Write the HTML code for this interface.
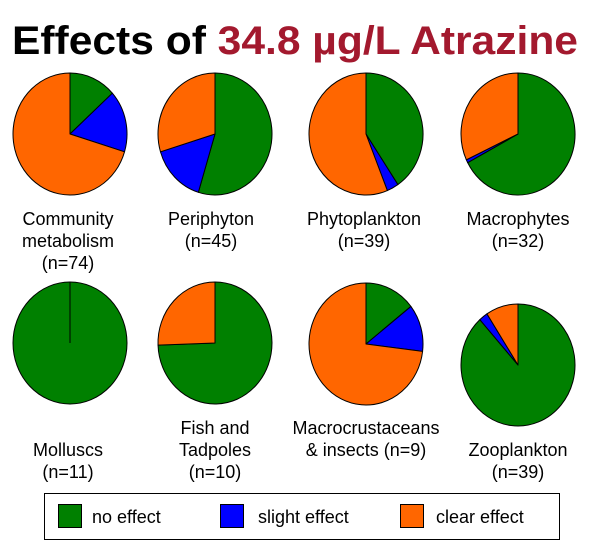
<!DOCTYPE html>
<html><head><meta charset="utf-8"><style>
body{margin:0;background:#fff;width:605px;height:553px;overflow:hidden}
svg{display:block}
text{font-family:"Liberation Sans",Arial,sans-serif;font-size:18px;fill:#000}
</style></head><body>
<svg id="s" width="605" height="553" xmlns="http://www.w3.org/2000/svg">
<text x="12" y="54" style="font-size:40px;font-weight:bold" textLength="566" lengthAdjust="spacingAndGlyphs">Effects of <tspan fill="#a3192e">34.8 µg/L Atrazine</tspan></text>
<g id="pies"></g>
<g text-anchor="middle">
<text x="68" y="225">Community</text><text x="68" y="247">metabolism</text><text x="68" y="269">(n=74)</text>
<text x="211" y="225">Periphyton</text><text x="211" y="247">(n=45)</text>
<text x="364" y="225">Phytoplankton</text><text x="364" y="247">(n=39)</text>
<text x="518" y="225">Macrophytes</text><text x="518" y="247">(n=32)</text>
<text x="68" y="456">Molluscs</text><text x="68" y="478">(n=11)</text>
<text x="215" y="434">Fish and</text><text x="215" y="456">Tadpoles</text><text x="215" y="478">(n=10)</text>
<text x="366" y="434">Macrocrustaceans</text><text x="366" y="456">&amp; insects (n=9)</text>
<text x="518" y="456">Zooplankton</text><text x="518" y="478">(n=39)</text>
</g>
<rect x="44.5" y="493.5" width="515" height="46" fill="#fff" stroke="#000" stroke-width="1"/>
<rect x="58.5" y="504.5" width="23" height="23" fill="#008000" stroke="#000"/>
<text x="92" y="523">no effect</text>
<rect x="220.5" y="504.5" width="23" height="23" fill="#0000ff" stroke="#000"/>
<text x="258" y="523">slight effect</text>
<rect x="400.5" y="504.5" width="23" height="23" fill="#ff6600" stroke="#000"/>
<text x="436" y="523">clear effect</text>
</svg>
<script>
var G="#008000",B="#0000ff",O="#ff6600";
var pies=[[70,134,[[0,48,G],[48,107,B],[107,360,O]]],
[215,134,[[0,197,G],[197,253,B],[253,360,O]]],
[366,134,[[0,146,G],[146,158,B],[158,360,O]]],
[518,134,[[0,242,G],[242,245,B],[245,360,O]]],
[70,343,[[0,360,G]]],
[215,343,[[0,268,G],[268,360,O]]],
[366,344,[[0,52,G],[52,97,B],[97,360,O]]],
[518,365,[[0,318,G],[318,327,B],[327,360,O]]]];
var r=57,ry=61,h="";
function pt(cx,cy,a){a=a*Math.PI/180;return (cx+r*Math.sin(a)).toFixed(2)+","+(cy-ry*Math.cos(a)).toFixed(2);}
pies.forEach(function(p){var cx=p[0],cy=p[1];
p[2].forEach(function(s){
 if(s[1]-s[0]>=360){h+='<ellipse cx="'+cx+'" cy="'+cy+'" rx="'+r+'" ry="'+ry+'" fill="'+s[2]+'" stroke="#000" stroke-width="1"/><line x1="'+cx+'" y1="'+(cy-ry)+'" x2="'+cx+'" y2="'+cy+'" stroke="#000"/>';return;}
 var l=(s[1]-s[0])>180?1:0;
 h+='<path d="M'+cx+','+cy+' L'+pt(cx,cy,s[0])+' A'+r+','+ry+' 0 '+l+' 1 '+pt(cx,cy,s[1])+' Z" fill="'+s[2]+'" stroke="#000" stroke-width="1" stroke-linejoin="round"/>';
});});
document.getElementById("pies").innerHTML=h;
</script>
</body></html>
